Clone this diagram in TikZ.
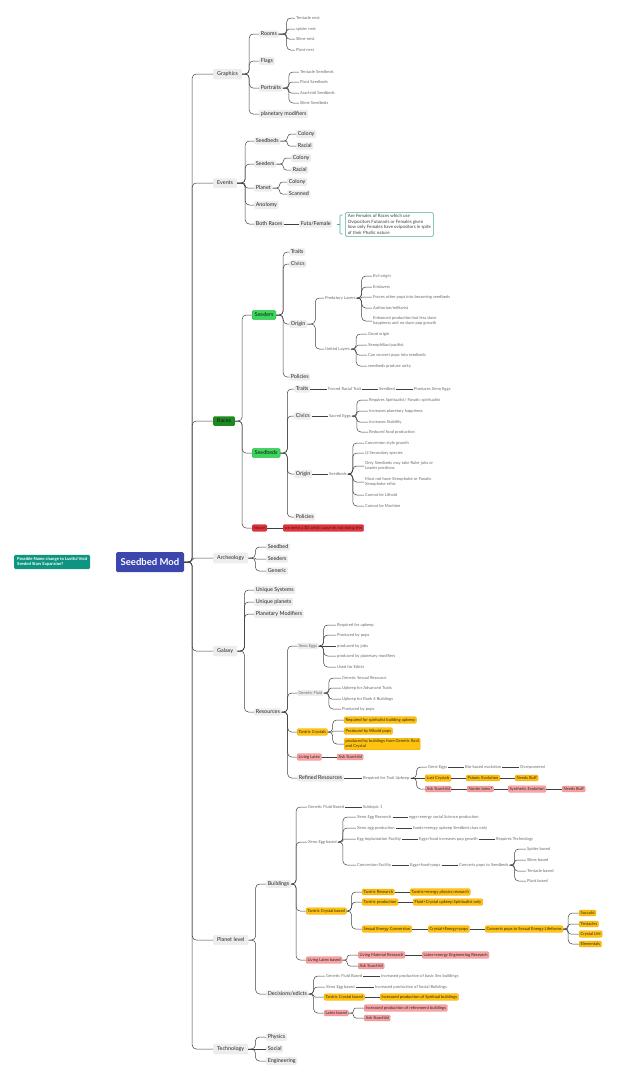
\documentclass[tikz,border=0pt]{standalone}
\usepackage{fontspec}
\setmainfont{Lato}
\usetikzlibrary{calc}
\definecolor{lnk}{HTML}{404040}
\definecolor{boxg}{HTML}{EDEDED}
\definecolor{leafc}{HTML}{6A6A6A}
\definecolor{yel}{HTML}{FFC20E}
\definecolor{yeld}{HTML}{EFA800}
\definecolor{pnk}{HTML}{F7A3A3}
\definecolor{pnkd}{HTML}{EC8888}
\definecolor{redb}{HTML}{E5333B}
\definecolor{redd}{HTML}{C92028}
\definecolor{grn}{HTML}{3BD75A}
\definecolor{grnd}{HTML}{22B443}
\definecolor{dgrn}{HTML}{1C8A1F}
\definecolor{rootc}{HTML}{3C47AE}
\definecolor{tealc}{HTML}{0E9582}
\definecolor{notec}{HTML}{48ADA0}
\tikzset{
  every node/.style={anchor=west},
  bx/.style={fill=boxg, rounded corners=1.2pt, inner xsep=1.6pt, inner ysep=1.6pt, font=\fontsize{5.4}{6}\selectfont, text=black!85},
  tb/.style={bx, inner xsep=4pt, inner ysep=2.8pt},
  lf/.style={inner sep=1pt, font=\fontsize{4.1}{5}\selectfont, text=leafc, align=left},
  lfb/.style={lf, fill=boxg, rounded corners=1pt, inner sep=1.3pt},
  yb/.style={fill=yel, draw=yeld, line width=0.4pt, rounded corners=1.2pt, inner sep=1.4pt, font=\fontsize{4.1}{5}\selectfont, text=black!85, align=left},
  pb/.style={yb, fill=pnk, draw=pnkd},
  rb/.style={yb, fill=redb, draw=redd},
  gb/.style={fill=grn, draw=grnd, line width=0.4pt, rounded corners=1.2pt, inner xsep=2.5pt, inner ysep=2.4pt, font=\fontsize{5.4}{6}\selectfont, text=black!90},
  link/.style={draw=lnk, line width=0.5pt},
}
\newcommand\cnx[3][7]{\draw[link] let \p1=(#2.east),\p2=(#3.west),\n1={min(4pt,abs(\y2-(\y1))/2.05)} in [rounded corners=\n1] (\p1) -- ++(#1pt,0) |- (\p2);}
\newcommand\hx[2]{\draw[link] (#1.east) -- (#1.east -| #2.west);}
\begin{document}
\begin{tikzpicture}[x=1pt,y=-1pt]
\useasboundingbox (0,0) rectangle (617,1080);
% root and note
\node[anchor=center, fill=rootc, text=white, font=\fontsize{9.5}{11}\selectfont\bfseries, minimum width=68pt, minimum height=20pt, rounded corners=1.5pt] (root) at (150,562) {Seedbed Mod};
\node[fill=tealc, text=white, rounded corners=1.2pt, font=\fontsize{4.2}{5.3}\selectfont\bfseries, align=left, inner xsep=3pt, inner ysep=2.5pt] (idea) at (14,562) {Possible Name change to Lustful Void\\Seeded Stars Expansion?};

% level 1
\node[tb] (gr) at (213,74) {Graphics};
\node[tb] (ev) at (213,183) {Events};
\node[tb, fill=dgrn, text=black!90] (races) at (213,421) {Races};
\node[tb] (arch) at (213,558) {Archeology};
\node[tb] (gal) at (213,651) {Galaxy};
\node[tb] (plv) at (213,940) {Planet level};
\node[tb] (tech) at (213,1049) {Technology};
\foreach \c in {gr,ev,races,arch,gal,plv,tech}{\cnx[8]{root}{\c}}

% Graphics
\node[bx] (rooms) at (259,34) {Rooms};
\node[bx] (flags) at (259,61) {Flags};
\node[bx] (portr) at (259,88) {Portraits};
\node[bx] (pmod) at (259,114) {planetary modifiers};
\node[lf] (r1) at (295,18) {Tentacle nest};
\node[lf] (r2) at (295,29) {spider nest};
\node[lf] (r3) at (295,39) {Slime nest};
\node[lf] (r4) at (295,50) {Plant nest};
\node[lf] (p1) at (299,72) {Tentacle Seedbeds};
\node[lf] (p2) at (299,82) {Plant Seedbeds};
\node[lf] (p3) at (299,93) {Arachnid Seedbeds};
\node[lf] (p4) at (299,103) {Slime Seedbeds};
\foreach \c in {rooms,flags,portr,pmod}{\cnx{gr}{\c}}
\foreach \c in {r1,r2,r3,r4}{\cnx[8]{rooms}{\c}}
\foreach \c in {p1,p2,p3,p4}{\cnx[6]{portr}{\c}}

% Events
\node[bx] (esb) at (254,141) {Seedbeds};
\node[bx] (esbc) at (296,134) {Colony};
\node[bx] (esbr) at (296,146) {Racial};
\node[bx] (esd) at (254,164) {Seeders};
\node[bx] (esdc) at (291,158) {Colony};
\node[bx] (esdr) at (291,170) {Racial};
\node[bx] (epl) at (254,188) {Planet};
\node[bx] (eplc) at (287,182) {Colony};
\node[bx] (epls) at (287,194) {Scanned};
\node[bx] (ean) at (254,205) {Anolomy};
\node[bx] (ebr) at (254,224) {Both Races};
\node[bx] (efu) at (299,224) {Futa/Female};
\node[draw=notec, line width=0.5pt, fill=white, rounded corners=1.5pt, font=\fontsize{4.45}{5.6}\selectfont, text=black!75, align=left, inner xsep=2.5pt, inner ysep=2pt] (note) at (345,224.5) {Are Females of Races which use\\Ovipositors Futanaris or Females given\\how only Females have ovipositors in spite\\of their Phallic nature};
\foreach \c in {esb,esd,epl,ean,ebr}{\cnx[8]{ev}{\c}}
\foreach \c in {esbc,esbr}{\cnx{esb}{\c}}
\foreach \c in {esdc,esdr}{\cnx{esd}{\c}}
\foreach \c in {eplc,epls}{\cnx{epl}{\c}}
\hx{ebr}{efu}
\draw[notec, line width=0.6pt, rounded corners=1pt] (342.5,215) -- (340,215) -- (340,234) -- (342.5,234);
\draw[notec, line width=0.6pt] (337,224.5) -- (340,224.5);

% Races - Seeders
\node[gb] (seeders) at (252,315) {Seeders};
\node[gb] (seedbeds) at (252,453) {Seedbeds};
\node[rb] (stp) at (252,528) {Stipsel};
\node[rb] (stp2) at (283,528) {we need a 3D artist cause im not doing this};
\foreach \c in {seeders,seedbeds,stp}{\cnx{races}{\c}}
\hx{stp}{stp2}
\node[bx] (tr1) at (289,252) {Traits};
\node[bx] (cv1) at (289,264) {Civics};
\node[bx] (or1) at (289,324) {Origin};
\node[bx] (po1) at (289,377) {Policies};
\foreach \c in {tr1,cv1,or1,po1}{\cnx{seeders}{\c}}
\node[lf] (plr) at (324,298) {Predatory Layers};
\node[lf] (ulr) at (324,349) {United Layers};
\foreach \c in {plr,ulr}{\cnx[8]{or1}{\c}}
\node[lf] (e1) at (372,276) {Evil origin};
\node[lf] (e2) at (372,287) {Enslavers};
\node[lf] (e3) at (372,297) {Forces other pops into becoming seedbeds};
\node[lf] (e4) at (372,308) {Authorian/militarist};
\node[lf] (e5) at (372,321) {Enhanced production but less slave\\happiness and no slave pop growth};
\foreach \c in {e1,e2,e3,e4,e5}{\cnx[5]{plr}{\c}}
\node[lf] (u1) at (367,334) {Good origin};
\node[lf] (u2) at (367,345) {Xenophiliac/pacifist};
\node[lf] (u3) at (367,355) {Can convert pops into seedbeds};
\node[lf] (u4) at (367,366) {seedbeds produce unity};
\foreach \c in {u1,u2,u3,u4}{\cnx[5]{ulr}{\c}}

% Races - Seedbeds
\node[bx] (tr2) at (294,389) {Traits};
\node[bx] (cv2) at (294,416) {Civics};
\node[bx] (or2) at (294,474) {Origin};
\node[bx] (po2) at (294,517) {Policies};
\foreach \c in {tr2,cv2,or2,po2}{\cnx{seedbeds}{\c}}
\node[lf] (frt) at (327,389) {Forced Racial Trait};
\node[lf] (sbt) at (378,389) {Seedbed};
\node[lf] (pxe) at (413,389) {Produces Xeno Eggs};
\hx{tr2}{frt}\hx{frt}{sbt}\hx{sbt}{pxe}
\node[lf] (sae) at (328,416) {Sacred Eggs};
\hx{cv2}{sae}
\node[lf] (c1) at (368,400) {Requires Spiritualist/ Fanatic spiritualist};
\node[lf] (c2) at (368,411) {Increases planetary happiness};
\node[lf] (c3) at (368,422) {Increases Stability};
\node[lf] (c4) at (368,432) {Reduced food production};
\foreach \c in {c1,c2,c3,c4}{\cnx[5]{sae}{\c}}
\node[lf] (sds) at (328,474) {Seedbeds};
\hx{or2}{sds}
\node[lf] (o1) at (364,443) {Conversion style growth};
\node[lf] (o2) at (364,453) {(2 Secondary species};
\node[lf] (o3) at (364,466) {Only Seedbeds may take Ruler jobs or\\Leader positions};
\node[lf] (o4) at (364,482) {Must not have Xenophobe or Fanatic\\Xenophobe ethic};
\node[lf] (o5) at (364,495) {Cannot be Lithoid};
\node[lf] (o6) at (364,506) {Cannot be Machine};
\foreach \c in {o1,o2,o3,o4,o5,o6}{\cnx[5]{sds}{\c}}

% Archeology
\node[bx] (a1) at (266,547) {Seedbed};
\node[bx] (a2) at (266,559) {Seeders};
\node[bx] (a3) at (266,571) {Generic};
\foreach \c in {a1,a2,a3}{\cnx{arch}{\c}}

% Galaxy
\node[bx] (g1) at (254,590) {Unique Systems};
\node[bx] (g2) at (254,602) {Unique planets};
\node[bx] (g3) at (254,614) {Planetary Modifiers};
\node[bx] (res) at (254,712) {Resources};
\foreach \c in {g1,g2,g3,res}{\cnx{gal}{\c}}
\node[lfb] (xe) at (297,646) {Xeno Eggs};
\node[lfb] (gf) at (297,693) {Genetic Fluid};
\node[yb] (tc) at (297,732) {Tantric Crystals};
\node[pb] (ll) at (297,757) {Living Latex};
\node[bx] (rr) at (297,778) {Refined Resources};
\foreach \c in {xe,gf,tc,ll,rr}{\cnx[6]{res}{\c}}
\node[lf] (x1) at (336,625) {Required for upkeep};
\node[lf] (x2) at (336,635) {Produced by pops};
\node[lf] (x3) at (336,646) {produced by jobs};
\node[lf] (x4) at (336,656) {produced by planetary modifiers};
\node[lf] (x5) at (336,667) {Used for Edicts};
\foreach \c in {x1,x2,x3,x4,x5}{\cnx[5]{xe}{\c}}
\node[lf] (f1) at (341,678) {Generic Sexual Resource};
\node[lf] (f2) at (341,688) {Upkeep for Advanced Traits};
\node[lf] (f3) at (341,699) {Upkeep for Rank 4 Buildings};
\node[lf] (f4) at (341,709) {Produced by pops};
\foreach \c in {f1,f2,f3,f4}{\cnx[5]{gf}{\c}}
\node[yb] (t1) at (344,720) {Required for spiritulist building upkeep};
\node[yb] (t2) at (344,731) {Produced by Wbold pops};
\node[yb] (t3) at (344,744) {produced by buildings from Genetic fluid\\and Crystal};
\foreach \c in {t1,t2,t3}{\cnx[5]{tc}{\c}}
\node[pb] (ask1) at (337,757) {Ask Starchild};
\hx{ll}{ask1}
\node[lf] (rtu) at (362,778) {Required for Trait Upkeep};
\hx{rr}{rtu}
\node[lf] (ge) at (427,767) {Gene Eggs};
\node[lf] (bbe) at (464,767) {Bio-based evolution};
\node[lf] (ovp) at (519,767) {Overpowered};
\node[yb] (lc) at (425,778) {Lust Crystals};
\node[yb] (pse) at (466,778) {Psionic Evolution};
\node[yb] (nb1) at (515,778) {Needs Buff};
\node[pb] (as2) at (425,789) {Ask Starchild};
\node[pb] (nl) at (467,789) {Nanite latex?};
\node[pb] (sye) at (508,789) {Synthetic Evolution};
\node[pb] (nb2) at (562,789) {Needs Buff};
\foreach \c in {ge,lc,as2}{\cnx[6]{rtu}{\c}}
\hx{ge}{bbe}\hx{bbe}{ovp}
\hx{lc}{pse}\hx{pse}{nb1}
\hx{as2}{nl}\hx{nl}{sye}\hx{sye}{nb2}

% Planet level
\node[bx] (bld) at (266,884) {Buildings};
\node[bx] (dec) at (266,994) {Decisions/edicts};
\foreach \c in {bld,dec}{\cnx{plv}{\c}}
\node[lf] (gfb) at (307,807) {Genetic Fluid Based};
\node[lf] (st1) at (362,807) {Subtopic 1};
\node[lf] (xeb) at (307,842) {Xeno Egg based};
\node[yb] (tcb) at (306,911) {Tantric Crystal based};
\node[pb] (llb) at (306,960) {Living Latex based};
\foreach \c in {gfb,xeb,tcb,llb}{\cnx[5]{bld}{\c}}
\hx{gfb}{st1}
\node[lf] (xr) at (356,817) {Xeno Egg Research};
\node[lf] (xr2) at (408,817) {eggs+energy social Science production};
\node[lf] (xp) at (356,828) {Xeno egg production};
\node[lf] (xp2) at (412,828) {foods+energy upkeep Seedbed class only};
\node[lf] (eif) at (356,839) {Egg Implantation Facility};
\node[lf] (eif2) at (418,839) {Eggs+food increases pop growth};
\node[lf] (eif3) at (495,839) {Requires Technology};
\node[lf] (cf) at (356,865) {Conversion Facility};
\node[lf] (cf2) at (409,865) {Eggs+food+pops};
\node[lf] (cf3) at (458,865) {Converts pops to Seedbeds};
\foreach \c in {xr,xp,eif,cf}{\cnx[5]{xeb}{\c}}
\hx{xr}{xr2}\hx{xp}{xp2}\hx{eif}{eif2}\hx{eif2}{eif3}\hx{cf}{cf2}\hx{cf2}{cf3}
\node[lf] (sp1) at (526,849) {Spider based};
\node[lf] (sp2) at (526,860) {Slime based};
\node[lf] (sp3) at (526,871) {Tentacle based};
\node[lf] (sp4) at (526,881) {Plant based};
\foreach \c in {sp1,sp2,sp3,sp4}{\cnx[5]{cf3}{\c}}
\node[yb] (tr3) at (362,892) {Tantric Research};
\node[yb] (tr4) at (410,892) {Tantric+energy physics research};
\node[yb] (tp3) at (362,902) {Tantric production};
\node[yb] (tp4) at (413,902) {Fluid+Crystal upkeep Spiritualist only};
\node[yb] (sec) at (362,929) {Sexual Energy Conversion};
\node[yb] (sec2) at (428,929) {Crystal+Energy+pops};
\node[yb] (sec3) at (485,929) {Converts pops to Sexual Energy Lifeforms};
\foreach \c in {tr3,tp3,sec}{\cnx[5]{tcb}{\c}}
\hx{tr3}{tr4}\hx{tp3}{tp4}\hx{sec}{sec2}\hx{sec2}{sec3}
\node[yb] (su1) at (579,913) {Succubi};
\node[yb] (su2) at (579,924) {Tentacles};
\node[yb] (su3) at (579,934) {Crystal Life};
\node[yb] (su4) at (579,944) {Elementals};
\foreach \c in {su1,su2,su3,su4}{\cnx[5]{sec3}{\c}}
\node[pb] (lmr) at (358,955) {Living Material Research};
\node[pb] (lmr2) at (422,955) {Latex+energy Engineering Research};
\node[pb] (as3) at (358,966) {Ask Starchild};
\foreach \c in {lmr,as3}{\cnx[5]{llb}{\c}}
\hx{lmr}{lmr2}
\node[lf] (d1) at (325,976) {Genetic Fluid Based};
\node[lf] (d1b) at (380,976) {Increased production of basic Sex buildings};
\node[lf] (d2) at (325,987) {Xeno Egg based};
\node[lf] (d2b) at (374,987) {Increased production of Social Buildings};
\node[yb] (d3) at (324,997) {Tantric Crystal based};
\node[yb] (d3b) at (380,997) {Increased production of Spiritual buildings};
\node[pb] (d4) at (324,1013) {Latex based};
\node[pb] (d4a) at (364,1008) {Increased production of refinement buildings};
\node[pb] (d4b) at (364,1018) {Ask Starchild};
\foreach \c in {d1,d2,d3,d4}{\cnx[5]{dec}{\c}}
\hx{d1}{d1b}\hx{d2}{d2b}\hx{d3}{d3b}
\foreach \c in {d4a,d4b}{\cnx[5]{d4}{\c}}

% Technology
\node[bx] (ph) at (266,1037) {Physics};
\node[bx] (so) at (266,1049) {Social};
\node[bx] (en) at (266,1061) {Engineering};
\foreach \c in {ph,so,en}{\cnx{tech}{\c}}
\end{tikzpicture}
\end{document}
